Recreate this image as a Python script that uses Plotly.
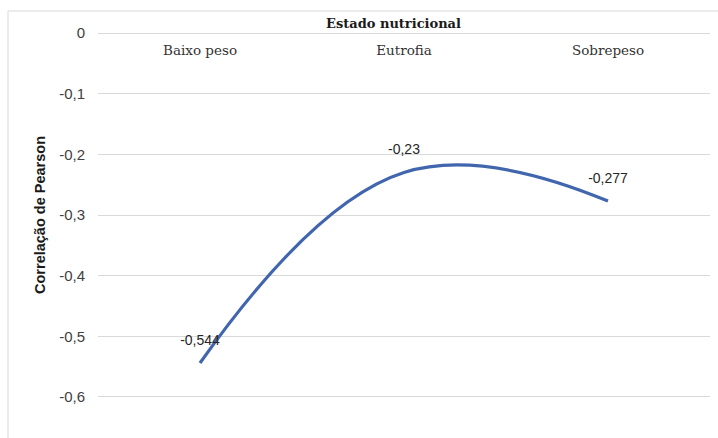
import plotly.graph_objects as go

# Nutritional status groups and Pearson correlation per group
categorias = ["Baixo peso", "Eutrofia", "Sobrepeso"]
correlacao = [-0.544, -0.23, -0.277]

# Y-axis ticks (decimal comma)
y_ticks = [0, -0.1, -0.2, -0.3, -0.4, -0.5, -0.6]
y_tick_labels = ["0", "-0,1", "-0,2", "-0,3", "-0,4", "-0,5", "-0,6"]

rotulos = [f"{v:g}".replace(".", ",") for v in correlacao]

W, H = 718, 438
L, R, T, B = 98, 8, 30, 38

SANS = "Liberation Sans, Arial, sans-serif"
SERIF = "DejaVu Serif, Liberation Serif, serif"

pw, ph = W - L - R, H - T - B


def py(pixel_y):
    """Pixel row -> paper y."""
    return (H - B - pixel_y) / ph


def px(pixel_x):
    """Pixel column -> paper x."""
    return (pixel_x - L) / pw


fig = go.Figure()
fig.add_trace(go.Scatter(
    x=categorias,
    y=correlacao,
    mode="lines+markers+text",
    line=dict(color="#4166AE", width=3.2, shape="spline", smoothing=1.2),
    marker=dict(size=22, color="rgba(0,0,0,0)", line=dict(width=0)),
    text=rotulos,
    textposition="top center",
    textfont=dict(family=SANS, size=14, color="#262626"),
    cliponaxis=False,
    showlegend=False,
    hoverinfo="skip",
))

fig.update_layout(
    width=W, height=H,
    margin=dict(l=L, r=R, t=T, b=B, pad=0),
    paper_bgcolor="white",
    plot_bgcolor="white",
    xaxis=dict(
        # category labels hang just below the zero line
        side="bottom",
        anchor="free",
        position=py(40),
        showgrid=False,
        showline=False,
        zeroline=False,
        ticks="",
        tickfont=dict(family=SERIF, size=13.5, color="#333333"),
        range=[-0.5, 2.5],
        fixedrange=True,
    ),
    yaxis=dict(
        range=[-0.605, 0.005],
        tickvals=y_ticks,
        ticktext=y_tick_labels,
        showgrid=True,
        gridcolor="#D9D9D9",
        gridwidth=1,
        zeroline=False,
        showline=False,
        ticks="",
        ticklabelstandoff=12,
        tickfont=dict(family=SANS, size=15, color="#404040"),
        title=dict(
            text="<b>Correlação de Pearson</b>",
            font=dict(family=SANS, size=14.5, color="#1a1a1a"),
            standoff=10,
        ),
        fixedrange=True,
    ),
)

# Horizontal axis title above the zero line
fig.add_annotation(
    text="<b>Estado nutricional</b>", xref="paper", yref="paper",
    x=px(393), y=py(33), yanchor="bottom",
    showarrow=False, font=dict(family=SERIF, size=13, color="#1a1a1a"),
)

# Light chart-area frame around the whole figure
fig.add_shape(
    type="rect", xref="paper", yref="paper", layer="below",
    x0=px(8), x1=px(W + 4), y0=py(H + 4), y1=py(11),
    line=dict(color="#D9D9D9", width=1), fillcolor="rgba(0,0,0,0)",
)

fig.write_html("out.html")
